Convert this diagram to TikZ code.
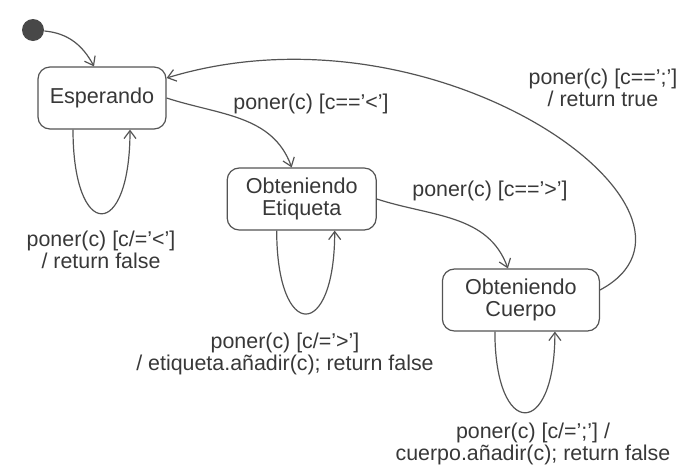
\documentclass[tikz,border=0pt]{standalone}
\usepackage{fontspec}
\setmainfont{Liberation Sans}
\usetikzlibrary{arrows.meta, positioning}
\definecolor{InkGray}{rgb}{0.33, 0.33, 0.33}
\definecolor{InkText}{rgb}{0.22, 0.22, 0.22}

\begin{document}
\begin{tikzpicture}[
    x=0.5pt, y=0.5pt,
    flow/.style={-{Straight Barb[length=4pt, width=6pt]}, line width=0.6pt, draw=InkGray},
    estado/.style={draw=InkGray, line width=0.6pt, rounded corners=6pt, fill=white,
        text=InkText, align=center, minimum height=31pt, inner sep=2pt,
        font={\fontsize{10.8}{11}\selectfont}},
    ini/.style={circle, fill=InkGray!85!black, minimum size=11pt, inner sep=0pt},
    lbl/.style={text=InkText, align=center, inner sep=0pt,
        font={\fontsize{10.7}{9}\selectfont}},
]
\useasboundingbox (0,0) rectangle (685,-467);

% estados
\node[ini] (ini) at (33,-30) {};
\node[estado, minimum width=64pt] (esp) at (102,-98) {Esperando};
\node[estado, minimum width=74.5pt, right=30pt of esp, yshift=-50.5pt] (etq)
    {Obteniendo\\Etiqueta};
\node[estado, minimum width=78.5pt, right=32.5pt of etq, yshift=-50.5pt] (cue)
    {Obteniendo\\Cuerpo};

% ================= transiciones =================
\draw[flow] (ini) to[out=-5, in=118] ([xshift=-4pt]esp.north);
\draw[flow] (esp.east) to[out=-18, in=110] ([xshift=-5pt]etq.north);
\draw[flow] (etq.east) to[out=-18, in=110] ([xshift=-6.5pt]cue.north);
\draw[flow] ([yshift=5pt]cue.east) .. controls (740,-215) and (440,5) .. ([yshift=10pt]esp.east);
\node[lbl] (lEspEtq) at (311,-104) {poner(c) [c=='<']};
\node[lbl] (lEtqCue) at (490,-191) {poner(c) [c=='>']};
\node[lbl] (lCueEsp) at (603,-88) {poner(c) [c==';']\\/ return true};

% ================= bucles =================
\draw[flow] ([xshift=-14.5pt]esp.south) .. controls +(0,-112) and +(0,-112) .. ([xshift=14pt]esp.south);
\draw[flow] ([xshift=-12.5pt]etq.south) .. controls +(0,-111) and +(0,-111) .. ([xshift=16.5pt]etq.south);
\draw[flow] ([xshift=-13pt]cue.south) .. controls +(0,-108) and +(0,-108) .. ([xshift=17pt]cue.south);
\node[lbl] (lEsp) at (101,-250) {poner(c) [c/='<']\\/ return false};
\node[lbl] (lEtq) at (285,-354) {poner(c) [c/='>']\\/ etiqueta.añadir(c); return false};
\node[lbl] (lCue) at (533,-444) {poner(c) [c/=';'] /\\cuerpo.añadir(c); return false};

\end{tikzpicture}
\end{document}
